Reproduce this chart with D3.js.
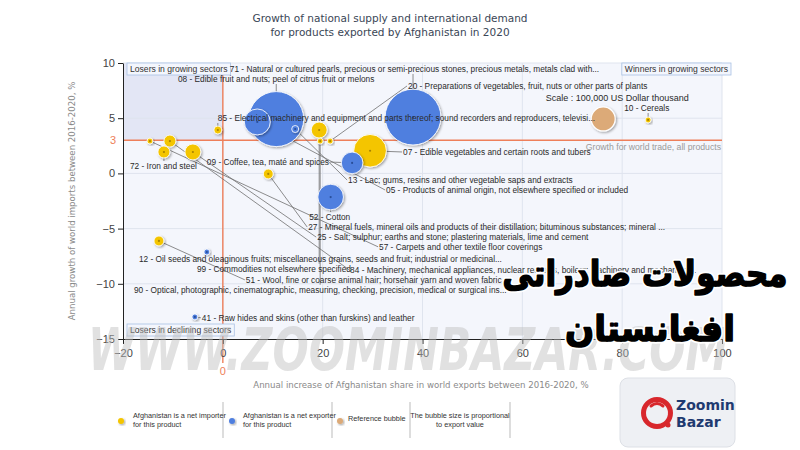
<!DOCTYPE html>
<html><head><meta charset="utf-8">
<script src="https://cdn.jsdelivr.net/npm/d3@7"></script>
<style>
html,body{margin:0;padding:0;background:#fff;}
svg{display:block;}
</style></head>
<body>
<svg id="chart" width="800" height="450"></svg>
<script>
// ---------- DATA ----------
const codes = ["08","71","07","05","52","09","25","99","84","72","51","27","85","13","20","57","10","12","90","41"];
const labels = [
  "08 - Edible fruit and nuts; peel of citrus fruit or melons",
  "71 - Natural or cultured pearls, precious or semi-precious stones, precious metals, metals clad with...",
  "07 - Edible vegetables and certain roots and tubers",
  "05 - Products of animal origin, not elsewhere specified or included",
  "52 - Cotton",
  "09 - Coffee, tea, maté and spices",
  "25 - Salt; sulphur; earths and stone; plastering materials, lime and cement",
  "99 - Commodities not elsewhere specified",
  "84 - Machinery, mechanical appliances, nuclear reactors, boilers; machinery and mechanical...",
  "72 - Iron and steel",
  "51 - Wool, fine or coarse animal hair; horsehair yarn and woven fabric",
  "27 - Mineral fuels, mineral oils and products of their distillation; bituminous substances; mineral ...",
  "85 - Electrical machinery and equipment and parts thereof; sound recorders and reproducers, televisi...",
  "13 - Lac; gums, resins and other vegetable saps and extracts",
  "20 - Preparations of vegetables, fruit, nuts or other parts of plants",
  "57 - Carpets and other textile floor coverings",
  "10 - Cereals",
  "12 - Oil seeds and oleaginous fruits; miscellaneous grains, seeds and fruit; industrial or medicinal...",
  "90 - Optical, photographic, cinematographic, measuring, checking, precision, medical or surgical ins...",
  "41 - Raw hides and skins (other than furskins) and leather"
];
// Annual increase of Afghanistan share in world exports 2016-2020, %
const shareGrowth = [10.7, 38.1, 29.5, 6.9, 21.6, 25.9, -6.0, 19.3, -10.6, -11.8, -12.8, 9.1, -1.0, 14.5, 21.5, -14.6, 85.2, -3.2, 19.5, -5.6];
// Annual growth of world imports 2016-2020, %
const importGrowth = [4.92, 5.1, 2.05, 4.66, -2.14, 0.95, 1.94, 3.93, 2.93, 1.94, -6.12, -0.05, 3.93, 4.02, 2.93, 2.93, 4.84, -7.12, 2.93, -13.0];
// Export value, US$ thousand
const exportValue = [525000, 540000, 185000, 117000, 114000, 81000, 44000, 44000, 25000, 25000, 17000, 17000, 11000, 8500, 6000, 6000, 6000, 6000, 6000, 6000];
// net position: "imp" = net importer, "exp" = net exporter
const netPosition = ["exp","exp","imp","exp","exp","exp","imp","imp","imp","imp","imp","imp","imp","exp","imp","imp","imp","exp","imp","exp"];
// label anchor positions (in chart units)
const labelShare  = [-9.0, 1.4, 36.1, 32.7, 17.3, -3.2, 18.9, -5.2, 25.5, -18.6, 4.6, 17.1, -1.0, 25.1, 37.1, 31.3, 80.4, -16.8, -17.8, -4.2];
const labelImport = [8.55, 9.46, 1.94, -1.5, -3.95, 1.03, -5.77, -8.64, -8.73, 0.67, -9.64, -4.86, 5.02, -0.6, 7.92, -6.65, 5.92, -7.74, -10.54, -13.08];

const referenceBubble = {share: 76.2, imports: 4.93, value: 100000};
const worldGrowth = 3;
const xTicks = [-20, 0, 20, 40, 60, 80, 100];
const yTicks = [-15, -10, -5, 0, 5, 10];

// ---------- DRAW ----------
const svg = d3.select("#chart");
const x = d3.scaleLinear().domain([-20, 100]).range([123, 722]);
const y = d3.scaleLinear().domain([-15, 10]).range([339, 63]);
const r = d3.scaleSqrt().domain([0, 100000]).range([0, 12]);
const COL = {imp: "#f4c500", exp: "#4f7fdf", ref: "#dcaa78"};
const DARK = {imp: "#a88400", exp: "#2a4f9a", ref: "#9a6f45"};

const defs = svg.append("defs");
const f = defs.append("filter").attr("id","sh").attr("x","-30%").attr("y","-30%").attr("width","160%").attr("height","160%");
f.append("feDropShadow").attr("dx",1.2).attr("dy",1.2).attr("stdDeviation",1).attr("flood-color","#000").attr("flood-opacity",0.35);

// Title
svg.append("text").attr("x",390).attr("y",22).attr("text-anchor","middle")
  .style("font-family","DejaVu Sans").style("font-size","10.5px").attr("fill","#3a4656")
  .text("Growth of national supply and international demand");
svg.append("text").attr("x",390).attr("y",36).attr("text-anchor","middle")
  .style("font-family","DejaVu Sans").style("font-size","10.5px").attr("fill","#3a4656")
  .text("for products exported by Afghanistan in 2020");

// plot backgrounds
svg.append("rect").attr("x",x(-20)).attr("y",y(10)).attr("width",x(100)-x(-20)).attr("height",y(-15)-y(10)).attr("fill","#f4f6fc");
svg.append("rect").attr("x",x(-20)).attr("y",y(10)).attr("width",x(0)-x(-20)).attr("height",y(worldGrowth)-y(10)).attr("fill","#e3e6f5");

// grid
svg.append("g").selectAll("line").data(xTicks.slice(1)).join("line")
  .attr("x1",d=>x(d)).attr("x2",d=>x(d)).attr("y1",y(10)).attr("y2",y(-15)).attr("stroke","#dfe4ee").attr("stroke-width",1);
svg.append("g").selectAll("line").data(yTicks.slice(1)).join("line")
  .attr("x1",x(-20)).attr("x2",x(100)).attr("y1",d=>y(d)).attr("y2",d=>y(d)).attr("stroke","#dfe4ee").attr("stroke-width",1);

// orange reference lines
svg.append("line").attr("x1",x(-20)).attr("x2",x(100)).attr("y1",y(worldGrowth)).attr("y2",y(worldGrowth)).attr("stroke","#ee7f5a").attr("stroke-width",1.4);
svg.append("line").attr("x1",x(0)).attr("x2",x(0)).attr("y1",y(10)).attr("y2",363).attr("stroke","#ee7f5a").attr("stroke-width",1.4);

// axes
const xAxis = svg.append("g").attr("transform",`translate(0,${y(-15)})`).call(d3.axisBottom(x).tickValues(xTicks).tickSize(5).tickSizeOuter(0));
const yAxis = svg.append("g").attr("transform",`translate(${x(-20)},0)`).call(d3.axisLeft(y).tickValues(yTicks).tickSize(5).tickSizeOuter(0));
[xAxis,yAxis].forEach(g=>{
  g.select(".domain").attr("stroke","#222");
  g.selectAll(".tick line").attr("stroke","#222");
  g.selectAll(".tick text").style("font-family","Liberation Sans").style("font-size","11px").attr("fill","#444");
});
xAxis.selectAll(".tick text").attr("dy","0.9em");
svg.append("text").attr("x",x(-20)-7).attr("y",y(worldGrowth)).attr("dy","0.35em").attr("text-anchor","end")
  .style("font-family","Liberation Sans").style("font-size","11px").attr("fill","#ee7f5a").text(worldGrowth);
svg.append("text").attr("x",x(0)).attr("y",375).attr("text-anchor","middle")
  .style("font-family","Liberation Sans").style("font-size","11px").attr("fill","#ee7f5a").text("0");

// axis titles
svg.append("text").attr("x",421).attr("y",388).attr("text-anchor","middle")
  .style("font-family","DejaVu Sans").style("font-size","8.6px").attr("fill","#8a8a8a")
  .text("Annual increase of Afghanistan share in world exports between 2016-2020, %");
svg.append("text").attr("transform","translate(75,201) rotate(-90)").attr("text-anchor","middle")
  .style("font-family","DejaVu Sans").style("font-size","8.6px").attr("fill","#8a8a8a")
  .text("Annual growth of world imports between 2016-2020, %");

// quadrant labels
function qbox(x0, y0, txt, anchorRight){
  const g = svg.append("g");
  const t = g.append("text").attr("y",y0+9).style("font-family","Liberation Sans").style("font-size","8.6px").attr("fill","#333").text(txt);
  const w = t.node().getComputedTextLength();
  const bx = anchorRight ? x0 - w - 6 : x0;
  t.attr("x",bx+3);
  g.insert("rect","text").attr("x",bx).attr("y",y0).attr("width",w+6).attr("height",12).attr("fill","#f3f6fd").attr("stroke","#a9c1e3").attr("stroke-width",0.8);
}
qbox(127,63,"Losers in growing sectors",false);
qbox(731,63,"Winners in growing sectors",true);
qbox(127,324,"Losers in declining sectors",false);

// products
const items = codes.map((c,i)=>({code:c,label:labels[i],sx:shareGrowth[i],iy:importGrowth[i],v:exportValue[i],t:netPosition[i],lx:labelShare[i],ly:labelImport[i]}));

// labels first (measure)
const lblG = svg.append("g");
const lineG = svg.insert("g", () => lblG.node());
items.forEach(d=>{
  const t = lblG.append("text").attr("x",x(d.lx)).attr("y",y(d.ly)).attr("dy","0.35em")
    .style("font-family","Liberation Sans").style("font-size","8.3px").attr("fill","#2a2a2a").text(d.label);
  d.w = t.node().getComputedTextLength();
});
// leader lines
items.forEach(d=>{
  const bx = x(d.sx), by = y(d.iy), lx0 = x(d.lx), lx1 = lx0 + d.w, ly = y(d.ly);
  let ex, ey;
  if (bx >= lx0 && bx <= lx1) { ex = bx; ey = by < ly ? ly - 5 : ly + 5; }
  else if (bx < lx0) { ex = lx0 - 1; ey = ly; }
  else { ex = lx1 + 1; ey = ly; }
  lineG.append("line").attr("x1",bx).attr("y1",by).attr("x2",ex).attr("y2",ey).attr("stroke","#707070").attr("stroke-width",0.8);
});

// bubbles
const bubG = svg.insert("g", () => lblG.node());
const sorted = items.slice().sort((a,b)=>b.v-a.v);
bubG.selectAll("circle.b").data(sorted).join("circle").attr("class","b")
  .attr("cx",d=>x(d.sx)).attr("cy",d=>y(d.iy)).attr("r",d=>r(d.v))
  .attr("fill",d=>COL[d.t]).attr("stroke","#ffffff").attr("stroke-opacity",0.85).attr("stroke-width",1)
  .attr("filter","url(#sh)");
bubG.selectAll("circle.c").data(sorted).join("circle").attr("class","c")
  .attr("cx",d=>x(d.sx)).attr("cy",d=>y(d.iy)).attr("r",1.1).attr("fill",d=>DARK[d.t]);
// reference bubble
bubG.append("circle").attr("cx",x(referenceBubble.share)).attr("cy",y(referenceBubble.imports)).attr("r",r(referenceBubble.value))
  .attr("fill",COL.ref).attr("stroke","#fff").attr("stroke-width",1.2).attr("filter","url(#sh)");
svg.append("text").attr("x",x(referenceBubble.share)+14).attr("y",y(6.8)).attr("dy","0.35em").attr("text-anchor","middle")
  .style("font-family","Liberation Sans").style("font-size","9px").attr("fill","#2a2a2a").text("Scale : 100,000 US Dollar thousand");
svg.append("text").attr("x",x(100)-1).attr("y",y(worldGrowth)+7).attr("dy","0.35em").attr("text-anchor","end")
  .style("font-family","Liberation Sans").style("font-size","8.7px").attr("fill","#9a9a9a").text("Growth for world trade, all products");

// watermark
svg.append("text").attr("x",408).attr("y",370).attr("text-anchor","middle")
  .attr("textLength",640).attr("lengthAdjust","spacingAndGlyphs")
  .style("font-family","DejaVu Sans").style("font-size","58px").style("font-weight","bold").style("font-style","italic")
  .attr("fill","#bdbdbd").attr("fill-opacity",0.45).text("WWW.ZOOMINBAZAR.COM");

// legend
const lg = svg.append("g").style("font-family","Liberation Sans").style("font-size","7.3px").attr("fill","#333");
[223,332,410,510].forEach(sx=>lg.append("line").attr("x1",sx).attr("x2",sx).attr("y1",402).attr("y2",438).attr("stroke","#bbb"));
const legendItems = [
  {t:"imp", cx:121, tx:133, lines:["Afghanistan is a net importer","for this product"]},
  {t:"exp", cx:232, tx:243, lines:["Afghanistan is a net exporter","for this product"]},
  {t:"ref", cx:340, tx:348, lines:["Reference bubble"]}
];
legendItems.forEach(it=>{
  lg.append("circle").attr("cx",it.cx).attr("cy",421).attr("r",3).attr("fill",COL[it.t]).attr("filter","url(#sh)");
  it.lines.forEach((s,i)=>lg.append("text").attr("x",it.tx).attr("y",it.lines.length>1? 418+i*9 : 421).text(s));
});
lg.append("text").attr("x",460).attr("y",418).attr("text-anchor","middle").text("The bubble size is proportional");
lg.append("text").attr("x",460).attr("y",427).attr("text-anchor","middle").text("to export value");

// logo
const logo = svg.append("g");
logo.append("rect").attr("x",620).attr("y",378).attr("width",115).attr("height",69).attr("rx",8).attr("fill","#eef0f4").attr("stroke","#dde0e6");
logo.append("path").attr("d",d3.arc()({innerRadius:11,outerRadius:16,startAngle:0.15*Math.PI*2+Math.PI*0.2,endAngle:Math.PI*2+Math.PI*0.55})).attr("transform","translate(657,413)").attr("fill","#d8272c");
logo.append("circle").attr("cx",668).attr("cy",425).attr("r",2.5).attr("fill","#d8272c");
logo.append("path").attr("d","M651,406 Q657,401 663,406").attr("stroke","#d8272c").attr("stroke-width",3).attr("fill","none").attr("stroke-linecap","round");
logo.append("text").attr("x",676).attr("y",410).style("font-family","DejaVu Sans").style("font-weight","bold").style("font-size","14px").attr("fill","#1f3a70").text("Zoomin");
logo.append("text").attr("x",676).attr("y",427).style("font-family","DejaVu Sans").style("font-weight","bold").style("font-size","14px").attr("fill","#1f3a70").text("Bazar");

// Persian overlay (white halo, then heavy black text)
function persian(txt, cx, by, len){
  [["#fff",5],["#000",1.6]].forEach(([sc,sw])=>{
    svg.append("text").attr("x",cx).attr("y",by).attr("text-anchor","middle").attr("direction","rtl")
      .attr("textLength",len).attr("lengthAdjust","spacingAndGlyphs")
      .style("font-family","DejaVu Sans").style("font-weight","bold").style("font-size","36px")
      .attr("fill","#000").attr("stroke",sc).attr("stroke-width",sw).attr("stroke-linejoin","round").text(txt);
  });
}
persian("محصولات صادراتی", 645, 286, 285);
persian("افغانستان", 650, 341, 170);
</script>
</body></html>
